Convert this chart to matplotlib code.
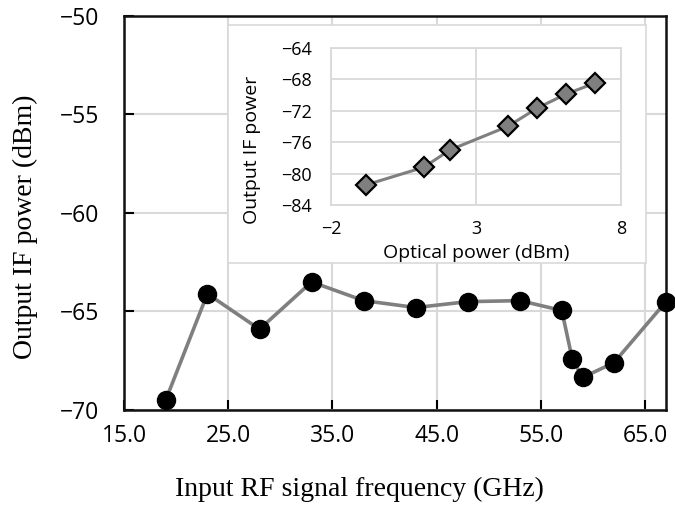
import matplotlib.pyplot as plt
from matplotlib.ticker import FixedLocator

# main curve: output IF power vs RF frequency
freq_ghz = [19, 23, 28, 33, 38, 43, 48, 53, 57, 58, 59, 62, 67]
if_power_dbm = [-69.5, -64.1, -65.9, -63.5, -64.45, -64.8, -64.5, -64.45, -64.95, -67.4, -68.35, -67.6, -64.5]

# inset: output IF power vs optical power
opt_power_dbm = [-0.8, 1.2, 2.1, 4.1, 5.1, 6.1, 7.1]
inset_if_dbm = [-81.45, -79.2, -77.0, -74.0, -71.7, -69.9, -68.5]

x_ticks = [15, 25, 35, 45, 55, 65]
y_ticks = [-70, -65, -60, -55, -50]
inset_x_ticks = [-2, 3, 8]
inset_y_ticks = [-84, -80, -76, -72, -68, -64]

plt.rcParams['font.family'] = ['Open Sans', 'DejaVu Sans']
plt.rcParams['axes.unicode_minus'] = True

grid_col = '#d9d9d9'
line_col = '#7f7f7f'
serif = ['Liberation Serif', 'DejaVu Serif']

fig = plt.figure(figsize=(6.75, 5.11), dpi=100)
ax = fig.add_axes([0.1837, 0.1977, 0.803, 0.771])
ax.plot(freq_ghz, if_power_dbm, color=line_col, lw=2.6, marker='o', ms=13,
        mfc='black', mec='black', zorder=3, clip_on=False)
ax.set_xlim(15, 67)
ax.set_ylim(-70, -50)
ax.set_xticks(x_ticks)
ax.set_xticklabels([f'{v:.1f}' for v in x_ticks])
ax.set_yticks(y_ticks)
ax.set_yticklabels([f'\u2212{abs(v)}' for v in y_ticks])
ax.grid(True, color=grid_col, lw=1.5)
ax.tick_params(direction='in', length=7, width=1.5, labelsize=16.5, pad=10)
ax.tick_params(axis='y', pad=18)
for s in ax.spines.values():
    s.set_linewidth(1.8)
    s.set_color('#111111')

fig.text(0.037, 0.556, 'Output IF power (dBm)', family=serif,
         fontsize=20, rotation=90, ha='center', va='center')
fig.text(0.533, 0.043, 'Input RF signal frequency (GHz)', family=serif,
         fontsize=20, ha='center', va='center')

# white panel behind the inset
box = fig.add_axes([0.3378, 0.4853, 0.6193, 0.4658])
box.set_xticks([])
box.set_yticks([])
box.set_facecolor('white')
for s in box.spines.values():
    s.set_color(grid_col)
    s.set_linewidth(1.2)

ins = fig.add_axes([0.4904, 0.5988, 0.4296, 0.3078])
ins.plot(opt_power_dbm, inset_if_dbm, color=line_col, lw=2.2, marker='D', ms=10,
         mfc=line_col, mec='black', mew=1.6, zorder=3)
ins.set_xlim(-2, 8)
ins.set_ylim(-84, -64)
ins.xaxis.set_major_locator(FixedLocator(inset_x_ticks))
ins.set_xticklabels([f'\u2212{abs(v)}' if v < 0 else str(v) for v in inset_x_ticks])
ins.yaxis.set_major_locator(FixedLocator(inset_y_ticks))
ins.set_yticklabels([f'\u2212{abs(v)}' for v in inset_y_ticks])
ins.grid(True, color=grid_col, lw=1.3)
ins.tick_params(length=0, labelsize=13)
ins.tick_params(axis='x', pad=11)
ins.tick_params(axis='y', pad=14)
for s in ins.spines.values():
    s.set_color(grid_col)
    s.set_linewidth(1.3)
ins.set_xlabel('Optical power (dBm)', fontsize=14)
ins.xaxis.set_label_coords(0.5, -0.245)
ins.set_ylabel('Output IF power', fontsize=14)
ins.yaxis.set_label_coords(-0.24, 0.35)

fig.savefig('out.png', dpi=100)
